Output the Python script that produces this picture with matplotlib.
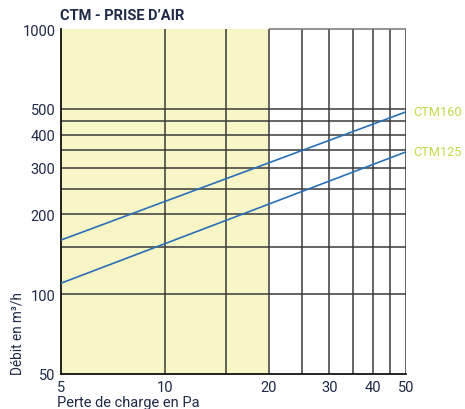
import matplotlib
matplotlib.use("Agg")
import matplotlib.pyplot as plt
import numpy as np

# Data
pressure = [5, 50]                 # Pa
ctm160 = [160, 487]                # m3/h
ctm125 = [110, 344]                # m3/h
series_labels = ["CTM160", "CTM125"]
x_ticks = [5, 10, 20, 30, 40, 50]
y_ticks = [50, 100, 200, 300, 400, 500, 1000]
x_grid = [10, 15, 20, 25, 30, 35, 40, 45, 50]
y_grid = [100, 150, 200, 250, 300, 350, 400, 450, 500]
zone = [5, 20]

navy = "#1e2a47"
blue = "#2a70b8"
lime = "#c6d84a"
yellow = "#f8f6c6"
gridc = "#3a3a3a"

plt.rcParams['font.family'] = ['Roboto', 'DejaVu Sans']

fig = plt.figure(figsize=(4.65, 4.10), dpi=100)
ax = fig.add_axes([61/465, 35/410, 345/465, 345/410])
ax.set_xscale('log')
ax.set_yscale('log')
ax.set_xlim(5, 50)
ax.set_ylim(50, 1000)

ax.axvspan(zone[0], zone[1], color=yellow, zorder=0, lw=0)
for xv in x_grid:
    ax.axvline(xv, color=gridc, lw=1.1, zorder=1)
for yv in y_grid:
    ax.axhline(yv, color=gridc, lw=1.1, zorder=1)
ax.hlines(1000, zone[1], 50, color="#777777", lw=1.1, zorder=1, clip_on=False)

ax.plot(pressure, ctm160, color=blue, lw=1.2, zorder=3)
ax.plot(pressure, ctm125, color=blue, lw=1.2, zorder=3)

for lab, vals in zip(series_labels, [ctm160, ctm125]):
    ax.annotate(lab, xy=(50, vals[1]), xytext=(5.5, 0), textcoords='offset points',
                color=lime, fontsize=9.2, va='center', ha='left', annotation_clip=False)

for s in ['top', 'right']:
    ax.spines[s].set_visible(False)
ax.spines['left'].set_color('#111111')
ax.spines['bottom'].set_color('#111111')
ax.spines['left'].set_linewidth(1.3)
ax.spines['bottom'].set_linewidth(1.3)

ax.set_xticks(x_ticks)
ax.set_xticklabels([str(v) for v in x_ticks])
ax.set_yticks(y_ticks)
ax.set_yticklabels([str(v) for v in y_ticks])
ax.xaxis.set_minor_locator(matplotlib.ticker.NullLocator())
ax.yaxis.set_minor_locator(matplotlib.ticker.NullLocator())
ax.tick_params(axis='both', length=0, labelsize=10.5, labelcolor=navy, pad=4)

fig.text(60/465, 1 - 16/410, "CTM - PRISE D\u2019AIR", color=navy, fontsize=10.5,
         fontweight='bold', ha='left', va='center')
fig.text(57/465, 1 - 403/410, "Perte de charge en Pa", color=navy, fontsize=10.5,
         ha='left', va='center')
fig.text(18/465, 35/410, "Débit en m³/h", color=navy, fontsize=9.8,
         rotation=90, ha='center', va='bottom')

fig.savefig("out.png", dpi=100)
